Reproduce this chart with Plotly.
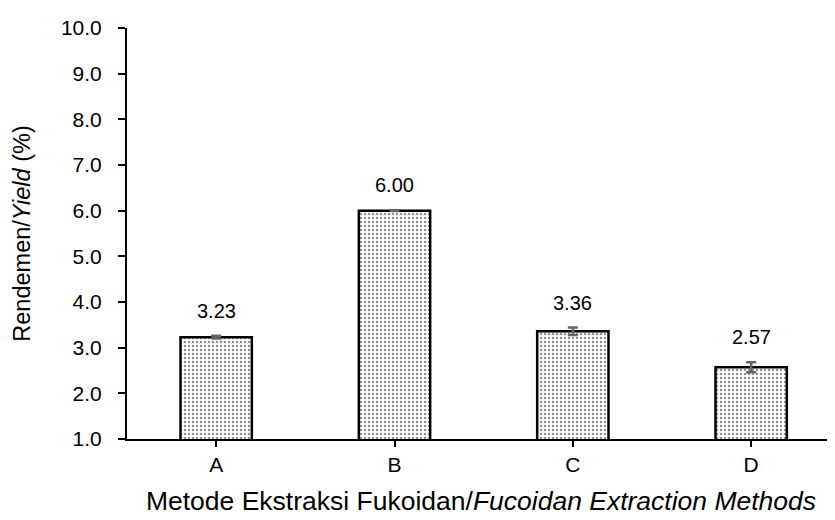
import plotly.graph_objects as go

categories = ["A", "B", "C", "D"]
yield_values = [3.23, 6.00, 3.36, 2.57]
yield_errors = [0.03, 0.01, 0.08, 0.11]
y_tick_values = [1, 2, 3, 4, 5, 6, 7, 8, 9, 10]

FONT = "Liberation Sans, Arial, sans-serif"
NARROW = "Liberation Sans Narrow, Arial Narrow, Liberation Sans, sans-serif"

fig = go.Figure()
fig.add_trace(go.Bar(
    x=categories,
    y=yield_values,
    width=0.4,
    marker=dict(
        color="white",
        line=dict(color="black", width=2.5),
        pattern=dict(shape=".", size=4, solidity=0.3, fgcolor="#222", bgcolor="white"),
    ),
    error_y=dict(type="data", array=yield_errors, visible=True,
                 color="#666666", thickness=2.5, width=5),
    showlegend=False,
))

for c, v, e in zip(categories, yield_values, yield_errors):
    fig.add_annotation(x=c, y=v + e, text=f"{v:.2f}", showarrow=False,
                       yshift=25, font=dict(family=FONT, size=20, color="black"))

fig.update_layout(
    width=835, height=520,
    margin=dict(l=119, r=8, t=16, b=89),
    plot_bgcolor="white", paper_bgcolor="white",
    font=dict(family=FONT, color="black"),
    xaxis=dict(
        range=[-0.5, 3.47],
        showline=True, linecolor="black", linewidth=2,
        ticks="outside", ticklen=6, tickwidth=2, tickcolor="black",
        tickfont=dict(size=21, family=NARROW),
        title=dict(text="Metode Ekstraksi Fukoidan/<i>Fucoidan Extraction Methods</i>",
                   font=dict(size=26.5), standoff=16),
    ),
    yaxis=dict(
        range=[1, 10],
        tickvals=y_tick_values,
        tickformat=".1f",
        showline=True, linecolor="black", linewidth=2,
        ticks="outside", ticklen=7, tickwidth=2, tickcolor="black",
        ticklabelstandoff=12,
        showgrid=False, zeroline=False,
        tickfont=dict(size=21),
        title=dict(text="Rendemen/<i>Yield</i> (%)", font=dict(size=23.5), standoff=24),
    ),
)

fig.write_html("out.html")
